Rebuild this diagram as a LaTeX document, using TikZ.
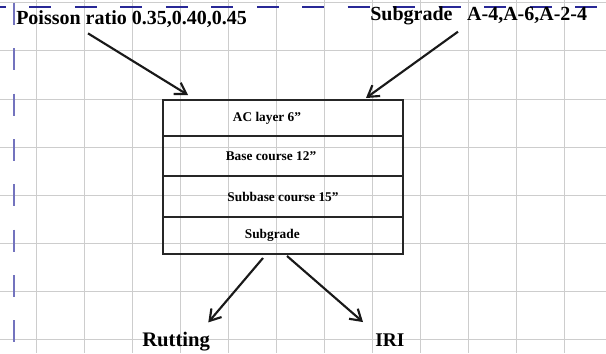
\documentclass[tikz,border=0pt]{standalone}
\usepackage{fontspec}
\setmainfont{Liberation Serif}
\usetikzlibrary{positioning, arrows.meta, calc}

\definecolor{gridgray}{RGB}{205,205,205}
\definecolor{marginblue}{RGB}{40,40,150}
\definecolor{marginviolet}{RGB}{115,115,190}

\begin{document}
\begin{tikzpicture}[x=0.75pt, y=-0.75pt,
    layer/.style={draw=black!85, line width=2.2pt, minimum width=180pt, outer sep=0pt, inner sep=0pt,
                  font=\bfseries\fontsize{10}{12}\selectfont},
    tag/.style={inner sep=0pt, font=\bfseries\fontsize{15}{18}\selectfont},
    >={Straight Barb[length=8pt, width=10pt]},
    arr/.style={->, line width=1.6pt, black!90}]

    \useasboundingbox (0,0) rectangle (606,353);

    % Grid paper
    \foreach \gx in {36,84,...,564}
        \draw[gridgray, line width=0.75pt] (\gx,0) -- (\gx,353);
    \foreach \gy in {3,51,...,339}
        \draw[gridgray, line width=0.75pt] (0,\gy) -- (606,\gy);

    % Margin lines
    \draw[marginblue, line width=1pt, dash pattern=on 16.5pt off 17.6pt] (-16,7) -- (606,7);
    \draw[marginviolet, line width=1.5pt, dash pattern=on 16.5pt off 17.5pt] (14,3) -- (14,353);

    % Pavement layers (the trailing kern pushes the text a bit left)
    \node[layer, minimum height=27pt] (ac) at (283,118) {AC layer 6”\kern24pt};
    \node[layer, minimum height=30pt, below=0pt of ac] (base) {Base course 12”\kern18pt};
    \node[layer, minimum height=30.75pt, below=0pt of base] (subbase) {Subbase course 15”};
    \node[layer, minimum height=27.75pt, below=0pt of subbase] (subgrade) {Subgrade\kern16pt};

    % Inputs and outputs
    \node[tag, anchor=base west] (poisson) at (16,25) {Poisson ratio 0.35,0.40,0.45};
    \node[tag, anchor=base west] (soil) at (370,21) {Subgrade\hspace{11pt}A-4,A-6,A-2-4};
    \node[tag, font=\bfseries\fontsize{15.5}{18}\selectfont, anchor=base west] (rutting) at (142,346) {Rutting};
    \node[tag, font=\bfseries\fontsize{14.5}{17}\selectfont, anchor=base west] (iri) at (375,346) {IRI};

    % Arrows
    \draw[arr] ($(poisson.south west)+(72,5)$) -- ($(ac.north west)+(25,-5)$);
    \draw[arr] ($(soil.south west)+(88,6)$) -- ($(ac.north east)+(-37,-2)$);
    \draw[arr] ($(subgrade.south west)+(100,4)$) -- ($(rutting.north east)+(-2,-9)$);
    \draw[arr] ($(subgrade.south)+(4,2)$) -- ($(iri.north west)+(-12,-11)$);

\end{tikzpicture}
\end{document}
